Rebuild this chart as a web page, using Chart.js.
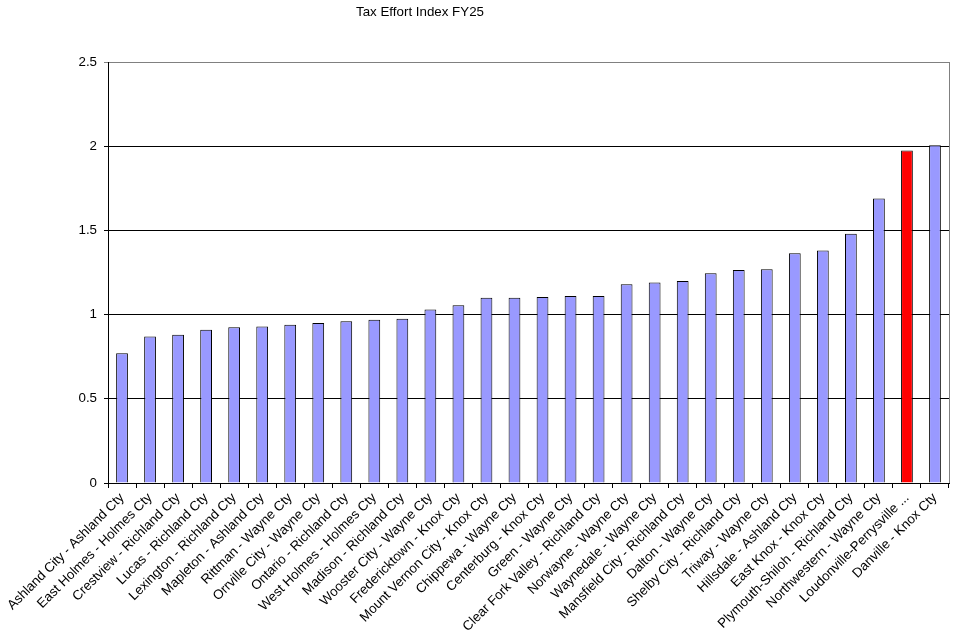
<!DOCTYPE html>
<html>
<head>
<meta charset="utf-8">
<script src="https://cdn.jsdelivr.net/npm/chart.js@4"></script>
<style>
  html, body { margin: 0; padding: 0; background: #fff; }
  #wrap { width: 960px; height: 639px; }
</style>
</head>
<body>
<div id="wrap"><canvas id="myChart" width="960" height="639"></canvas></div>
<script>
const districts = [
  'Ashland City - Ashland Cty', 'East Holmes - Holmes Cty', 'Crestview - Richland Cty',
  'Lucas - Richland Cty', 'Lexington - Richland Cty', 'Mapleton - Ashland Cty',
  'Rittman - Wayne Cty', 'Orrville City - Wayne Cty', 'Ontario - Richland Cty',
  'West Holmes - Holmes Cty', 'Madison - Richland Cty', 'Wooster City - Wayne Cty',
  'Fredericktown - Knox Cty', 'Mount Vernon City - Knox Cty', 'Chippewa - Wayne Cty',
  'Centerburg - Knox Cty', 'Green - Wayne Cty', 'Clear Fork Valley - Richland Cty',
  'Norwayne - Wayne Cty', 'Waynedale - Wayne Cty', 'Mansfield City - Richland Cty',
  'Dalton - Wayne Cty', 'Shelby City - Richland Cty', 'Triway - Wayne Cty',
  'Hillsdale - Ashland Cty', 'East Knox - Knox Cty', 'Plymouth-Shiloh - Richland Cty',
  'Northwestern - Wayne Cty', 'Loudonville-Perrysville ...', 'Danville - Knox Cty'
];
const taxEffort = [
  0.77, 0.87, 0.88, 0.91, 0.925, 0.93, 0.94, 0.95, 0.96, 0.97,
  0.975, 1.03, 1.055, 1.10, 1.10, 1.105, 1.11, 1.11, 1.18, 1.19,
  1.20, 1.245, 1.265, 1.27, 1.365, 1.38, 1.48, 1.69, 1.975, 2.005
];
const highlighted = 'Loudonville-Perrysville ...';
const title = 'Tax Effort Index FY25';

const FONT = "'Liberation Sans', Arial, sans-serif";
const FONT_SIZE = 13.33;

// title sits left of centre in the original, so draw it by hand
const titlePlugin = {
  id: 'titleText',
  afterDraw(chart) {
    const c = chart.ctx;
    c.save();
    c.font = FONT_SIZE + 'px ' + FONT;
    c.fillStyle = '#000';
    c.textAlign = 'center';
    c.textBaseline = 'middle';
    c.fillText(title, 420, 12);
    c.restore();
  }
};

// grey right edge of the plot area
const borderPlugin = {
  id: 'plotBorder',
  beforeDatasetsDraw(chart) {
    const a = chart.chartArea;
    const c = chart.ctx;
    c.save();
    c.strokeStyle = '#808080';
    c.lineWidth = 1;
    c.beginPath();
    c.moveTo(a.right + 0.5, a.top);
    c.lineTo(a.right + 0.5, a.bottom);
    c.stroke();
    c.restore();
  }
};

const ctx = document.getElementById('myChart').getContext('2d');
const myChart = new Chart(ctx, {
  type: 'bar',
  data: {
    labels: districts,
    datasets: [{
      data: taxEffort,
      backgroundColor: districts.map(d => d === highlighted ? '#FF0000' : '#9999FF'),
      borderColor: '#000',
      borderWidth: 1,
      barPercentage: 0.42,
      categoryPercentage: 1
    }]
  },
  options: {
    responsive: false,
    animation: false,
    layout: { padding: { top: 62, right: 11, left: 0, bottom: 0 } },
    plugins: {
      legend: { display: false },
      title: { display: false },
      tooltip: { enabled: false }
    },
    scales: {
      x: {
        grid: { drawOnChartArea: false, drawTicks: true, tickLength: 5, color: '#000' },
        border: { color: '#000' },
        ticks: {
          autoSkip: false,
          minRotation: 45,
          maxRotation: 45,
          padding: 2,
          color: '#000',
          font: { family: FONT, size: FONT_SIZE }
        },
        afterFit(scale) { scale.height = 156; }
      },
      y: {
        min: 0,
        max: 2.5,
        ticks: {
          stepSize: 0.5,
          padding: 7,
          color: '#000',
          font: { family: FONT, size: FONT_SIZE },
          callback: v => String(v)
        },
        grid: {
          tickLength: 4,
          color: c => c.tick && c.tick.value === 2.5 ? '#808080' : '#000'
        },
        border: { color: '#000' },
        afterFit(scale) { scale.width = 108; }
      }
    }
  },
  plugins: [titlePlugin, borderPlugin]
});
</script>
</body>
</html>
